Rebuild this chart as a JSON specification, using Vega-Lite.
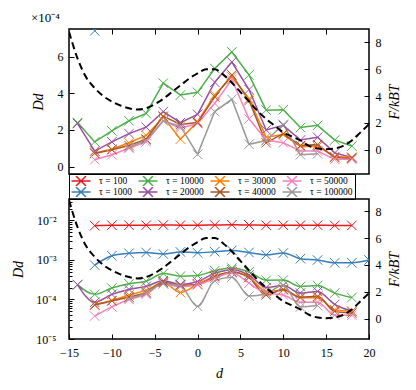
{
  "$schema": "https://vega.github.io/schema/vega-lite/v6.json",
  "padding": {"left": 11, "right": 5, "top": 10, "bottom": 5},
  "bounds": "flush",
  "spacing": 25,
  "config": {
    "font": "Liberation Serif",
    "view": {"stroke": "black", "strokeWidth": 1.5},
    "axis": {"grid": false, "domain": false, "labelFont": "Liberation Serif", "labelFontSize": 12, "labelColor": "black", "tickColor": "black", "tickSize": -5, "tickWidth": 1, "labelPadding": 11, "titleFont": "Liberation Serif", "titleFontSize": 14, "titleFontWeight": "normal", "titleFontStyle": "italic", "titleColor": "black", "labelFlush": false}
  },
  "datasets": {
    "D": [
      {"tau": "τ = 100", "x": -12, "D": 0.0074}, {"tau": "τ = 100", "x": -10, "D": 0.0076}, {"tau": "τ = 100", "x": -8, "D": 0.0076}, {"tau": "τ = 100", "x": -6, "D": 0.0076}, {"tau": "τ = 100", "x": -4, "D": 0.0077}, {"tau": "τ = 100", "x": -2, "D": 0.0076}, {"tau": "τ = 100", "x": 0, "D": 0.0076}, {"tau": "τ = 100", "x": 2, "D": 0.0077}, {"tau": "τ = 100", "x": 4, "D": 0.0078}, {"tau": "τ = 100", "x": 6, "D": 0.0077}, {"tau": "τ = 100", "x": 8, "D": 0.0076}, {"tau": "τ = 100", "x": 10, "D": 0.0076}, {"tau": "τ = 100", "x": 12, "D": 0.0076}, {"tau": "τ = 100", "x": 14, "D": 0.0076}, {"tau": "τ = 100", "x": 16, "D": 0.0075}, {"tau": "τ = 100", "x": 18, "D": 0.0075},
      {"tau": "τ = 1000", "x": -12, "D": 0.00074}, {"tau": "τ = 1000", "x": -10, "D": 0.00128}, {"tau": "τ = 1000", "x": -8, "D": 0.00148}, {"tau": "τ = 1000", "x": -6, "D": 0.00155}, {"tau": "τ = 1000", "x": -4, "D": 0.00142}, {"tau": "τ = 1000", "x": -2, "D": 0.0016}, {"tau": "τ = 1000", "x": 0, "D": 0.00152}, {"tau": "τ = 1000", "x": 2, "D": 0.00162}, {"tau": "τ = 1000", "x": 4, "D": 0.00175}, {"tau": "τ = 1000", "x": 6, "D": 0.00155}, {"tau": "τ = 1000", "x": 8, "D": 0.00135}, {"tau": "τ = 1000", "x": 10, "D": 0.0015}, {"tau": "τ = 1000", "x": 12, "D": 0.00108}, {"tau": "τ = 1000", "x": 14, "D": 0.001}, {"tau": "τ = 1000", "x": 16, "D": 0.00085}, {"tau": "τ = 1000", "x": 18, "D": 0.00085}, {"tau": "τ = 1000", "x": 20, "D": 0.001},
      {"tau": "τ = 10000", "x": -14, "D": 0.00024}, {"tau": "τ = 10000", "x": -12, "D": 0.000135}, {"tau": "τ = 10000", "x": -10, "D": 0.000195}, {"tau": "τ = 10000", "x": -8, "D": 0.00025}, {"tau": "τ = 10000", "x": -6, "D": 0.00029}, {"tau": "τ = 10000", "x": -4, "D": 0.000455}, {"tau": "τ = 10000", "x": -2, "D": 0.00039}, {"tau": "τ = 10000", "x": 0, "D": 0.000405}, {"tau": "τ = 10000", "x": 2, "D": 0.000535}, {"tau": "τ = 10000", "x": 4, "D": 0.000625}, {"tau": "τ = 10000", "x": 6, "D": 0.0005}, {"tau": "τ = 10000", "x": 8, "D": 0.000308}, {"tau": "τ = 10000", "x": 10, "D": 0.00031}, {"tau": "τ = 10000", "x": 12, "D": 0.000213}, {"tau": "τ = 10000", "x": 14, "D": 0.000225}, {"tau": "τ = 10000", "x": 16, "D": 0.000145}, {"tau": "τ = 10000", "x": 18, "D": 0.000112},
      {"tau": "τ = 20000", "x": -14, "D": 0.000235}, {"tau": "τ = 20000", "x": -12, "D": 0.000085}, {"tau": "τ = 20000", "x": -10, "D": 0.000135}, {"tau": "τ = 20000", "x": -8, "D": 0.00018}, {"tau": "τ = 20000", "x": -6, "D": 0.000215}, {"tau": "τ = 20000", "x": -4, "D": 0.0003}, {"tau": "τ = 20000", "x": -2, "D": 0.00024}, {"tau": "τ = 20000", "x": 0, "D": 0.000285}, {"tau": "τ = 20000", "x": 2, "D": 0.00046}, {"tau": "τ = 20000", "x": 4, "D": 0.00057}, {"tau": "τ = 20000", "x": 6, "D": 0.00042}, {"tau": "τ = 20000", "x": 8, "D": 0.0002}, {"tau": "τ = 20000", "x": 10, "D": 0.000225}, {"tau": "τ = 20000", "x": 12, "D": 0.000145}, {"tau": "τ = 20000", "x": 14, "D": 0.00016}, {"tau": "τ = 20000", "x": 16, "D": 0.000075}, {"tau": "τ = 20000", "x": 18, "D": 0.00005},
      {"tau": "τ = 30000", "x": -12, "D": 0.000075}, {"tau": "τ = 30000", "x": -10, "D": 0.000095}, {"tau": "τ = 30000", "x": -8, "D": 0.00013}, {"tau": "τ = 30000", "x": -6, "D": 0.00017}, {"tau": "τ = 30000", "x": -4, "D": 0.00027}, {"tau": "τ = 30000", "x": -2, "D": 0.00015}, {"tau": "τ = 30000", "x": 0, "D": 0.000245}, {"tau": "τ = 30000", "x": 2, "D": 0.00039}, {"tau": "τ = 30000", "x": 4, "D": 0.00049}, {"tau": "τ = 30000", "x": 6, "D": 0.00037}, {"tau": "τ = 30000", "x": 8, "D": 0.00016}, {"tau": "τ = 30000", "x": 10, "D": 0.000175}, {"tau": "τ = 30000", "x": 12, "D": 0.00011}, {"tau": "τ = 30000", "x": 14, "D": 0.00011}, {"tau": "τ = 30000", "x": 16, "D": 0.000055}, {"tau": "τ = 30000", "x": 18, "D": 0.00005},
      {"tau": "τ = 40000", "x": -12, "D": 0.000072}, {"tau": "τ = 40000", "x": -10, "D": 0.000092}, {"tau": "τ = 40000", "x": -8, "D": 0.000115}, {"tau": "τ = 40000", "x": -6, "D": 0.00015}, {"tau": "τ = 40000", "x": -4, "D": 0.000275}, {"tau": "τ = 40000", "x": -2, "D": 0.00023}, {"tau": "τ = 40000", "x": 0, "D": 0.00024}, {"tau": "τ = 40000", "x": 2, "D": 0.00038}, {"tau": "τ = 40000", "x": 4, "D": 0.0005}, {"tau": "τ = 40000", "x": 6, "D": 0.00036}, {"tau": "τ = 40000", "x": 8, "D": 0.00013}, {"tau": "τ = 40000", "x": 10, "D": 0.00018}, {"tau": "τ = 40000", "x": 12, "D": 0.000115}, {"tau": "τ = 40000", "x": 14, "D": 0.00012}, {"tau": "τ = 40000", "x": 16, "D": 0.00005}, {"tau": "τ = 40000", "x": 18, "D": 0.000045},
      {"tau": "τ = 50000", "x": -12, "D": 0.000038}, {"tau": "τ = 50000", "x": -10, "D": 0.000065}, {"tau": "τ = 50000", "x": -8, "D": 0.0001}, {"tau": "τ = 50000", "x": -6, "D": 0.000135}, {"tau": "τ = 50000", "x": -4, "D": 0.00025}, {"tau": "τ = 50000", "x": -2, "D": 0.00021}, {"tau": "τ = 50000", "x": 0, "D": 0.000235}, {"tau": "τ = 50000", "x": 2, "D": 0.000345}, {"tau": "τ = 50000", "x": 4, "D": 0.000475}, {"tau": "τ = 50000", "x": 6, "D": 0.00026}, {"tau": "τ = 50000", "x": 8, "D": 0.000145}, {"tau": "τ = 50000", "x": 10, "D": 0.00013}, {"tau": "τ = 50000", "x": 12, "D": 0.000085}, {"tau": "τ = 50000", "x": 14, "D": 0.000085}, {"tau": "τ = 50000", "x": 16, "D": 0.00004}, {"tau": "τ = 50000", "x": 18, "D": 0.00004},
      {"tau": "τ = 100000", "x": -8, "D": 0.000105}, {"tau": "τ = 100000", "x": -6, "D": 0.000145}, {"tau": "τ = 100000", "x": -4, "D": 0.00025}, {"tau": "τ = 100000", "x": -2, "D": 0.00022}, {"tau": "τ = 100000", "x": 0, "D": 0.000067}, {"tau": "τ = 100000", "x": 2, "D": 0.0003}, {"tau": "τ = 100000", "x": 4, "D": 0.000367}, {"tau": "τ = 100000", "x": 6, "D": 0.000122}, {"tau": "τ = 100000", "x": 8, "D": 0.000142}, {"tau": "τ = 100000", "x": 10, "D": 0.00023}, {"tau": "τ = 100000", "x": 12, "D": 0.000065}, {"tau": "τ = 100000", "x": 14, "D": 0.00007}
    ],
    "F": [
      {"x": -15, "F": 8.8}, {"x": -14, "F": 6.8}, {"x": -13, "F": 5.4}, {"x": -12, "F": 4.6}, {"x": -11, "F": 4.0}, {"x": -10, "F": 3.6}, {"x": -9, "F": 3.3}, {"x": -8, "F": 3.1}, {"x": -7, "F": 3.0}, {"x": -6, "F": 3.1}, {"x": -5, "F": 3.4}, {"x": -4, "F": 3.8}, {"x": -3, "F": 4.3}, {"x": -2, "F": 4.8}, {"x": -1, "F": 5.3}, {"x": 0, "F": 5.7}, {"x": 1, "F": 6.0}, {"x": 2, "F": 6.0}, {"x": 3, "F": 5.6}, {"x": 4, "F": 5.0}, {"x": 5, "F": 4.3}, {"x": 6, "F": 3.6}, {"x": 7, "F": 2.9}, {"x": 8, "F": 2.3}, {"x": 9, "F": 1.8}, {"x": 10, "F": 1.3}, {"x": 11, "F": 1.0}, {"x": 12, "F": 0.7}, {"x": 13, "F": 0.3}, {"x": 14, "F": 0.1}, {"x": 15, "F": 0.05}, {"x": 16, "F": 0.1}, {"x": 17, "F": 0.3}, {"x": 18, "F": 0.7}, {"x": 19, "F": 1.3}, {"x": 20, "F": 1.9}
    ]
  },
  "resolve": {"legend": {"color": "independent"}},
  "vconcat": [
    {
      "width": 300, "height": 145,
      "title": {"text": "×10⁻⁴", "anchor": "start", "fontSize": 13, "font": "Liberation Serif", "fontWeight": "normal", "offset": 4, "color": "black"},
      "layer": [
        {
          "data": {"name": "D"},
          "encoding": {
            "x": {"field": "x", "type": "quantitative", "scale": {"domain": [-15, 20], "nice": false}, "axis": {"orient": "top", "values": [-10, -5, 0, 5, 10, 15], "labels": false, "title": null}},
            "y": {"field": "D", "type": "quantitative", "scale": {"domain": [-0.00004, 0.00075], "nice": false, "zero": false}, "axis": {"values": [0, 0.0002, 0.0004, 0.0006], "labelExpr": "'' + round(datum.value * 10000)", "title": "Dd", "titlePadding": 12}},
            "color": {
              "field": "tau", "type": "nominal",
              "scale": {"domain": ["τ = 100", "τ = 1000", "τ = 10000", "τ = 20000", "τ = 30000", "τ = 40000", "τ = 50000", "τ = 100000"], "range": ["#e41a1c", "#377eb8", "#4daf4a", "#984ea3", "#ff7f00", "#a65628", "#f781bf", "#999999"]},
              "legend": {"orient": "none", "legendX": 0, "legendY": 145, "columns": 4, "title": null, "strokeColor": "black", "fillColor": "white", "padding": 2, "symbolType": "M-1.9,0H1.9M-1,-1L1,1M-1,1L1,-1", "symbolSize": 100, "symbolStrokeWidth": 1.5, "symbolOffset": 4, "labelOffset": 12, "labelFontSize": 9.5, "labelFont": "Liberation Serif", "labelColor": "black", "rowPadding": 1, "columnPadding": 6, "gridAlign": "each", "clipHeight": 10}
            }
          },
          "layer": [
            {"mark": {"type": "line", "clip": true, "strokeWidth": 1.5}},
            {"mark": {"type": "point", "shape": "M-1,-1L1,1M-1,1L1,-1", "filled": false, "size": 90, "strokeWidth": 1, "clip": true, "opacity": 1}}
          ]
        },
        {
          "data": {"name": "F"},
          "mark": {"type": "line", "color": "black", "strokeDash": [7, 4], "strokeWidth": 2, "interpolate": "monotone", "clip": true},
          "encoding": {
            "x": {"field": "x", "type": "quantitative"},
            "y": {"field": "F", "type": "quantitative", "scale": {"domain": [-1.8, 9], "nice": false, "zero": false}, "axis": {"orient": "right", "values": [0, 2, 4, 6, 8], "title": "F/kBT", "titleAngle": 270, "titleBaseline": "top", "titlePadding": 6}}
          }
        }
      ],
      "resolve": {"scale": {"y": "independent"}}
    },
    {
      "width": 300, "height": 140,
      "layer": [
        {
          "data": {"name": "D"},
          "encoding": {
            "x": {"field": "x", "type": "quantitative", "scale": {"domain": [-15, 20], "nice": false}, "axis": {"orient": "bottom", "values": [-15, -10, -5, 0, 5, 10, 15, 20], "title": "d", "titlePadding": 8, "labelPadding": 13}},
            "y": {"field": "D", "type": "quantitative", "scale": {"type": "log", "domain": [0.00001, 0.035], "nice": false}, "axis": {"values": [0.00001, 0.00002, 0.00003, 0.00004, 0.00005, 0.00006, 0.00007, 0.00008, 0.00009, 0.0001, 0.0002, 0.0003, 0.0004, 0.0005, 0.0006, 0.0007, 0.0008, 0.0009, 0.001, 0.002, 0.003, 0.004, 0.005, 0.006, 0.007, 0.008, 0.009, 0.01, 0.02, 0.03], "labelExpr": "abs(log(datum.value)/LN10 - round(log(datum.value)/LN10)) > 0.01 ? '' : datum.value > 0.005 ? '10⁻²' : datum.value > 0.0005 ? '10⁻³' : datum.value > 0.00005 ? '10⁻⁴' : '10⁻⁵'", "tickSize": {"condition": {"test": "abs(log(datum.value)/LN10 - round(log(datum.value)/LN10)) < 0.01", "value": -5}, "value": -3}, "labelPadding": 18, "title": "Dd", "titlePadding": 10}},
            "color": {"field": "tau", "type": "nominal", "legend": null}
          },
          "layer": [
            {"mark": {"type": "line", "clip": true, "strokeWidth": 1.5, "interpolate": "monotone"}},
            {"mark": {"type": "point", "shape": "M-1,-1L1,1M-1,1L1,-1", "filled": false, "size": 90, "strokeWidth": 1, "clip": true, "opacity": 1}}
          ]
        },
        {
          "data": {"name": "F"},
          "mark": {"type": "line", "color": "black", "strokeDash": [7, 4], "strokeWidth": 2, "interpolate": "monotone", "clip": true},
          "encoding": {
            "x": {"field": "x", "type": "quantitative"},
            "y": {"field": "F", "type": "quantitative", "scale": {"domain": [-1.5, 8.9], "nice": false, "zero": false}, "axis": {"orient": "right", "values": [0, 2, 4, 6, 8], "title": "F/kBT", "titleAngle": 270, "titleBaseline": "top", "titlePadding": 6}}
          }
        }
      ],
      "resolve": {"scale": {"y": "independent"}}
    }
  ]
}
